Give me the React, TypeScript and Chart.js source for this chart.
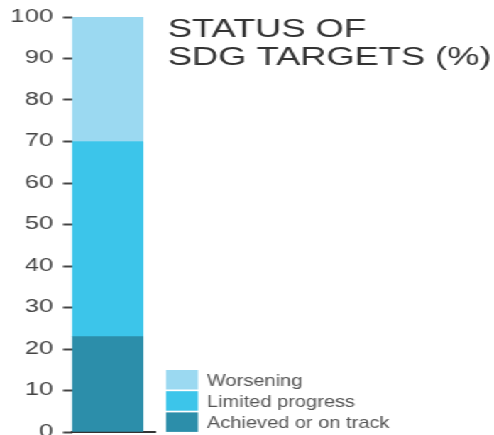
import React, { useEffect, useRef } from "react";
import { Chart, registerables } from "chart.js";

Chart.register(...registerables);

// ---- data ----
const categories = ["SDG targets"];
const seriesNames = ["Achieved or on track", "Limited progress", "Worsening"];
const achieved = [23];
const limited = [47];
const worsening = [30];
const seriesColors = ["#2c8eaa", "#3cc5ea", "#9bd9f1"];
const titleLines = ["STATUS OF", "SDG TARGETS (%)"];

const STRETCH = 1.42;
const W = Math.round(494 / STRETCH);
const H = 435;

const overlayPlugin = {
  id: "overlay",
  afterDraw(chart: any) {
    const ctx = chart.ctx;
    ctx.save();
    // title
    ctx.fillStyle = "#333333";
    ctx.font = "25px 'Liberation Sans', Arial, sans-serif";
    ctx.textAlign = "left";
    ctx.textBaseline = "alphabetic";
    const longest = Math.max(...titleLines.map((t) => ctx.measureText(t).width));
    const titleScale = 228 / longest;
    titleLines.forEach((t, i) => {
      ctx.save();
      ctx.translate(118.3, 37 + i * 28);
      ctx.scale(titleScale, 1);
      ctx.fillText(t, 0, 0);
      ctx.restore();
    });
    // legend (top to bottom = reversed stack order)
    const ds = chart.data.datasets.slice().reverse();
    ds.forEach((d: any, i: number) => {
      const top = 370 + i * 21.2;
      ctx.fillStyle = d.backgroundColor;
      ctx.fillRect(117, top, 22.5, 19.5);
      ctx.fillStyle = "#555555";
      ctx.font = "17px 'Liberation Sans', sans-serif";
      ctx.save();
      ctx.translate(145.8, top + 16);
      ctx.scale(0.83, 1);
      ctx.fillText(d.label, 0, 0);
      ctx.restore();
    });
    ctx.restore();
  },
};

export default function App() {
  const ref = useRef<HTMLCanvasElement>(null);
  useEffect(() => {
    if (!ref.current) return;
    const series = [achieved, limited, worsening];
    const chart = new Chart(ref.current, {
      type: "bar",
      data: {
        labels: categories,
        datasets: series.map((arr, k) => ({
          label: seriesNames[k],
          data: arr.map((v, i) => ({ x: i, y: v })),
          backgroundColor: seriesColors[k],
          borderWidth: 0,
          barThickness: 50,
        })),
      },
      options: {
        responsive: false,
        animation: false,
        layout: { padding: { top: 17, bottom: 3, left: 0, right: W - 109.2 } },
        plugins: { legend: { display: false }, tooltip: { enabled: false } },
        scales: {
          x: {
            type: "linear",
            stacked: true,
            offset: false,
            min: -0.5,
            max: 0.67,
            ticks: { display: false },
            grid: { display: false, drawTicks: false, tickLength: 0, offset: false },
            border: { display: true, color: "#333333", width: 2 },
          },
          y: {
            stacked: true,
            min: 0,
            max: 100,
            ticks: {
              stepSize: 10,
              padding: 7,
              color: "#444444",
              font: { family: "'Liberation Sans', Arial, sans-serif", size: 18 },
            },
            grid: {
              drawOnChartArea: false,
              drawTicks: true,
              tickLength: 6.3,
              tickWidth: 2,
              tickColor: "#444444",
            },
            border: { display: false },
            afterFit(scale: any) {
              scale.width = 50.7;
              scale.paddingTop = 0;
              scale.paddingBottom = 0;
            },
          },
        },
      },
      plugins: [overlayPlugin],
    } as any);
    return () => chart.destroy();
  }, []);
  return (
    <div
      style={{
        position: "absolute",
        left: 0,
        top: 0,
        width: W,
        height: H,
        background: "#ffffff",
        transform: `scaleX(${494 / W})`,
        transformOrigin: "0 0",
      }}
    >
      <canvas ref={ref} width={W} height={H} />
    </div>
  );
}
